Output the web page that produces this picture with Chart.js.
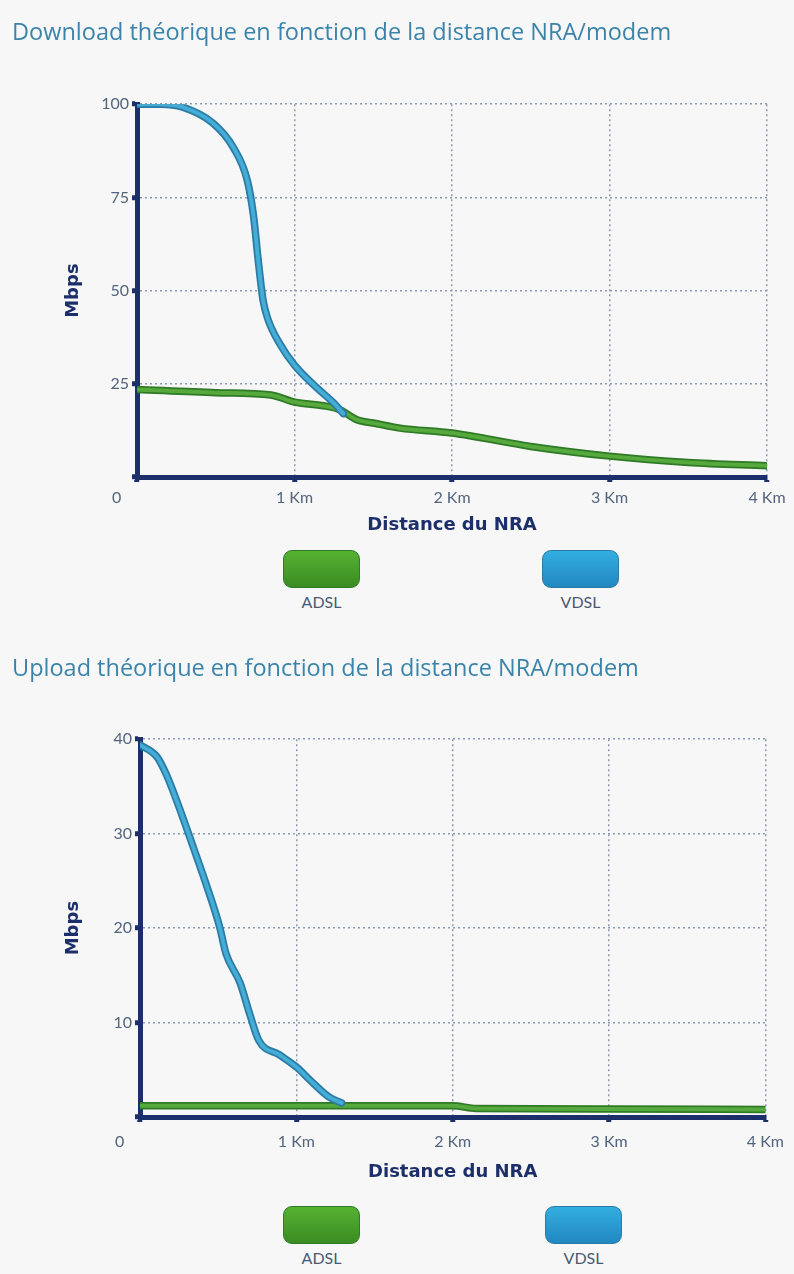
<!DOCTYPE html>
<html>
<head>
<meta charset="utf-8">
<script src="https://cdn.jsdelivr.net/npm/chart.js@4.4.1/dist/chart.umd.min.js"></script>
<style>
  body { margin: 0; background: #f7f7f7; width: 794px; height: 1274px; position: relative; overflow: hidden; font-family: Lato, "Noto Sans", sans-serif; }
  canvas { position: absolute; left: 0; }
  #downChart { top: 0; }
  #upChart { top: 640px; }
  .legend-item { position: absolute; width: 77px; text-align: center; color: #4a5a72; font-size: 16px; }
  .legend-item .swatch { width: 77px; height: 38px; border-radius: 9px; margin-bottom: 4px; box-sizing: border-box; }
</style>
</head>
<body>
<canvas id="downChart" width="794" height="538"></canvas>
<canvas id="upChart" width="794" height="545"></canvas>
<div id="legends"></div>
<script>
// Download chart (Mbps vs km)
const downTitle = 'Download théorique en fonction de la distance NRA/modem';
const vdslDownKm = [0, 0.15, 0.29, 0.48, 0.61, 0.70, 0.74, 0.77, 0.80, 0.83, 0.91, 1.0, 1.14, 1.25, 1.31];
const vdslDown = [100, 100, 99.2, 95, 88.5, 79.6, 70, 58, 47.5, 42.5, 35.5, 30, 24, 19.8, 17];
const adslDownKm = [0, 0.5, 0.85, 1.0, 1.2, 1.29, 1.4, 1.5, 1.67, 2.0, 2.5, 3.0, 3.5, 4.0];
const adslDown = [23.5, 22.6, 22, 20.1, 19, 18, 15.3, 14.5, 13.1, 11.8, 8.2, 5.6, 3.9, 3.0];

// Upload chart
const upTitle = 'Upload théorique en fonction de la distance NRA/modem';
const vdslUpKm = [0, 0.11, 0.17, 0.25, 0.34, 0.42, 0.51, 0.55, 0.64, 0.70, 0.76, 0.89, 1.0, 1.10, 1.21, 1.29];
const vdslUp = [39.4, 38.1, 36.2, 32.8, 28.6, 24.8, 20.1, 17.3, 14.2, 11, 8.1, 6.6, 5.3, 3.7, 2.1, 1.5];
const adslUpKm = [0, 1.0, 2.0, 2.15, 3.0, 4.0];
const adslUp = [1.2, 1.2, 1.2, 0.9, 0.85, 0.8];

const seriesNames = ['ADSL', 'VDSL'];
const seriesCore = ['#56a93c', '#45acd5'];
const seriesEdge = ['#2f7a26', '#2a7ca6'];
const swatchTop = ['#55b232', '#33aee0'];
const swatchBottom = ['#3a8c22', '#2187c0'];
const kmTicks = [0, 1, 2, 3, 4];
const downTicks = [0, 25, 50, 75, 100];
const upTicks = [0, 10, 20, 30, 40];

const navy = '#1c2f6a';
const gridColor = '#8d9bb0';
const tickFont = { family: 'Lato', size: 16 };
const axisTitleFont = { family: 'DejaVu Sans', size: 18, weight: 'bold' };

function toPoints(xs, ys) {
  return xs.map((x, i) => ({ x: x, y: ys[i] }));
}

function lineSet(label, pts, color, width, order) {
  return {
    label: label,
    data: pts,
    borderColor: color,
    borderWidth: width,
    pointRadius: 0,
    cubicInterpolationMode: 'monotone',
    borderCapStyle: 'round',
    borderJoinStyle: 'round',
    order: order
  };
}

function createChart(id, title, adslPts, vdslPts, yTicks, lay) {
  const ctx = document.getElementById(id).getContext('2d');
  new Chart(ctx, {
    type: 'line',
    data: {
      datasets: [
        lineSet('VDSL', vdslPts, seriesCore[1], 4, 0),
        lineSet('VDSL edge', vdslPts, seriesEdge[1], 7.5, 1),
        lineSet('ADSL', adslPts, seriesCore[0], 4, 2),
        lineSet('ADSL edge', adslPts, seriesEdge[0], 7.5, 3)
      ]
    },
    options: {
      responsive: false,
      animation: false,
      layout: { padding: { left: 12, right: lay.right, top: 0, bottom: 0 } },
      plugins: {
        legend: { display: false },
        tooltip: { enabled: false },
        title: {
          display: true,
          text: title,
          align: 'start',
          color: '#3a84ab',
          font: { family: 'Open Sans', size: 23.5, weight: 'normal', lineHeight: 1.2 },
          padding: { top: lay.titleTop, bottom: lay.titleBottom }
        }
      },
      scales: {
        x: {
          type: 'linear',
          min: 0,
          max: 4,
          afterBuildTicks: (scale) => { scale.ticks = kmTicks.map(v => ({ value: v })); },
          afterFit: (scale) => { scale.height = lay.xHeight; },
          ticks: {
            color: '#53647d',
            font: tickFont,
            padding: lay.xTickPad,
            maxRotation: 0,
            callback: (v) => v === 0 ? '0\u00a0\u00a0\u00a0\u00a0\u00a0\u00a0\u00a0\u00a0\u00a0\u00a0' : v + ' Km'
          },
          grid: { color: gridColor, lineWidth: 1.5, tickColor: navy, tickWidth: 5, tickLength: 5 },
          border: { display: true, color: navy, width: 5, dash: [2, 3] },
          title: { display: true, text: 'Distance du NRA', color: navy, font: axisTitleFont, padding: { top: 0, bottom: lay.xTitlePad } }
        },
        y: {
          min: 0,
          max: yTicks[yTicks.length - 1],
          afterBuildTicks: (scale) => { scale.ticks = yTicks.map(v => ({ value: v })); },
          afterFit: (scale) => { scale.width = lay.yWidth; },
          ticks: {
            color: '#53647d',
            font: tickFont,
            padding: 3,
            callback: (v) => v === 0 ? '' : String(v)
          },
          grid: { color: gridColor, lineWidth: 1.5, tickColor: navy, tickWidth: 5, tickLength: 5 },
          border: { display: true, color: navy, width: 5, dash: [2, 3] },
          title: { display: true, text: 'Mbps', color: navy, font: axisTitleFont, padding: { top: lay.yTitlePad, bottom: 0 } }
        }
      }
    }
  });
}

createChart('downChart', downTitle, toPoints(adslDownKm, adslDown), toPoints(vdslDownKm, vdslDown), downTicks,
  { right: 27, titleTop: 19, titleBottom: 57, xHeight: 61, xTickPad: 6, xTitlePad: 2, yWidth: 125, yTitlePad: 51 });
createChart('upChart', upTitle, toPoints(adslUpKm, adslUp), toPoints(vdslUpKm, vdslUp), upTicks,
  { right: 28, titleTop: 15, titleBottom: 56, xHeight: 68, xTickPad: 10, xTitlePad: 2, yWidth: 128, yTitlePad: 51 });

// HTML legends below each chart
const legendPos = [
  { top: 550, left: [283, 542] },
  { top: 1206, left: [283, 545] }
];
const legends = document.getElementById('legends');
legendPos.forEach(pos => {
  seriesNames.forEach((name, i) => {
    const item = document.createElement('div');
    item.className = 'legend-item';
    item.style.top = pos.top + 'px';
    item.style.left = pos.left[i] + 'px';
    const sw = document.createElement('div');
    sw.className = 'swatch';
    sw.style.background = `linear-gradient(${swatchTop[i]}, ${swatchBottom[i]})`;
    sw.style.border = `1.5px solid ${seriesEdge[i]}`;
    item.appendChild(sw);
    item.appendChild(document.createTextNode(name));
    legends.appendChild(item);
  });
});
</script>
</body>
</html>
